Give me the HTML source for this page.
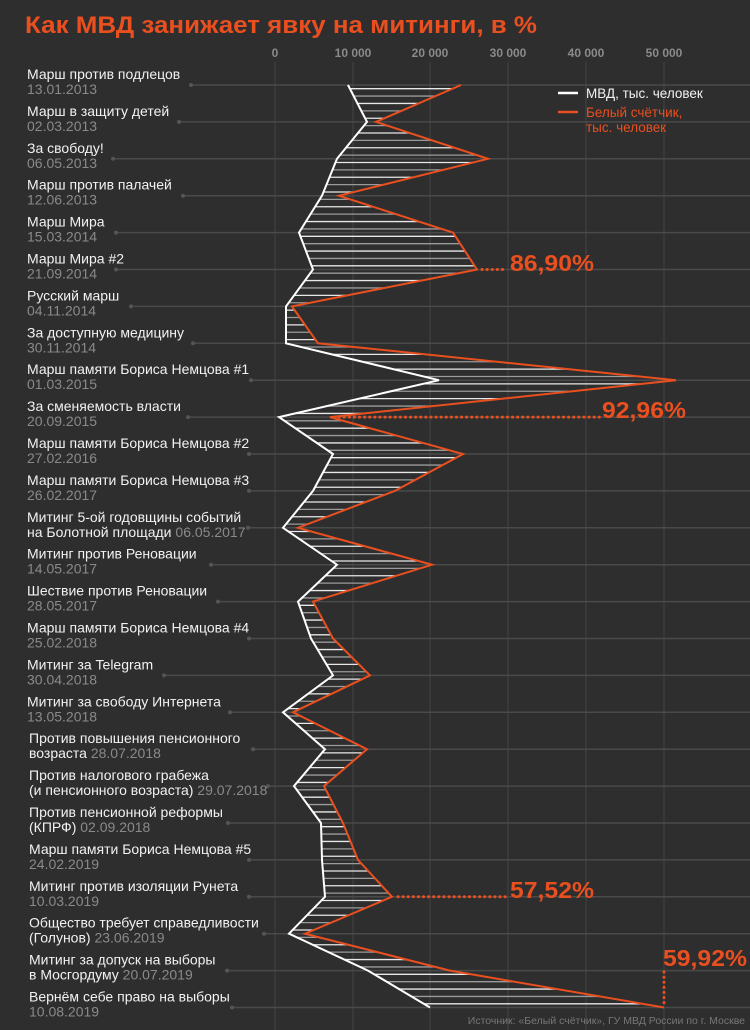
<!DOCTYPE html>
<html><head><meta charset="utf-8"><style>
html,body{margin:0;padding:0;background:#2e2e2e;}
svg{display:block;font-family:"Liberation Sans","DejaVu Sans",sans-serif;}
</style></head><body>
<svg id="s" width="750" height="1030" xmlns="http://www.w3.org/2000/svg">
<rect width="750" height="1030" fill="#2e2e2e"/>
<text x="25" y="33" fill="#ea4f1f" font-size="24" font-weight="bold" textLength="512" lengthAdjust="spacingAndGlyphs">Как МВД занижает явку на митинги, в %</text>
<g id="g"></g>
</svg>
<script>
var NS="http://www.w3.org/2000/svg",g=document.getElementById('g');
function el(t,a,txt){var e=document.createElementNS(NS,t);for(var k in a)e.setAttribute(k,a[k]);if(txt!=null)e.textContent=txt;g.appendChild(e);return e;}
var ax=[275,353,430,508,586,664],al=["0","10 000","20 000","30 000","40 000","50 000"];
for(var i=0;i<6;i++){el('line',{x1:ax[i],x2:ax[i],y1:62,y2:1030,stroke:'#444','stroke-width':1});
el('text',{x:ax[i],y:57,fill:'#8a8a8a','font-size':12,'font-weight':'bold','text-anchor':'middle'},al[i]);}
var rows=[
["Марш против подлецов","13.01.2013",191,348,461],
["Марш в защиту детей","02.03.2013",179,367,376],
["За свободу!","06.05.2013",113,337,488],
["Марш против палачей","12.06.2013",183,322,339],
["Марш Мира","15.03.2014",116,299,453],
["Марш Мира #2","21.09.2014",116,313,477],
["Русский марш","04.11.2014",131,286,292],
["За доступную медицину","30.11.2014",193,286,318],
["Марш памяти Бориса Немцова #1","01.03.2015",251,439,676],
["За сменяемость власти","20.09.2015",188,279,330],
["Марш памяти Бориса Немцова #2","27.02.2016",249,333,463],
["Марш памяти Бориса Немцова #3","26.02.2017",249,313,395],
["Митинг 5-ой годовщины событий","на Болотной площади|06.05.2017",248,283,298],
["Митинг против Реновации","14.05.2017",211,337,432],
["Шествие против Реновации","28.05.2017",218,298,313],
["Марш памяти Бориса Немцова #4","25.02.2018",249,311,333],
["Митинг за Telegram","30.04.2018",164,333,370],
["Митинг за свободу Интернета","13.05.2018",230,283,293],
["Против повышения пенсионного","возраста|28.07.2018",253,325,367],
["Против налогового грабежа","(и пенсионного возраста)|29.07.2018",268,294,324],
["Против пенсионной реформы","(КПРФ)|02.09.2018",228,321,343],
["Марш памяти Бориса Немцова #5","24.02.2019",249,322,358],
["Митинг против изоляции Рунета","10.03.2019",249,325,392],
["Общество требует справедливости","(Голунов)|23.06.2019",264,289,305],
["Митинг за допуск на выборы","в Мосгордуму|20.07.2019",227,368,450],
["Вернём себе право на выборы","10.08.2019",232,430,664]];
function Y(i){return 85+i*36.9;}
var pw=[],po=[];
rows.forEach(function(r,i){var y=Y(i);
 el('line',{x1:r[2],x2:750,y1:y,y2:y,stroke:'#4a4a4a','stroke-width':1.5});
 el('circle',{cx:r[2],cy:y,r:2,fill:'#555'});
 var lx=i>=18?29:27;
 el('text',{x:lx,y:y-6,fill:'#f2f2f2','font-size':14},r[0]);
 var t=el('text',{x:lx,y:y+9,fill:'#f2f2f2','font-size':14});
 var p=r[1].split('|');
 if(p.length==2){var a=document.createElementNS(NS,'tspan');a.textContent=p[0]+' ';t.appendChild(a);
  var b=document.createElementNS(NS,'tspan');b.setAttribute('fill','#8a8a8a');b.textContent=p[1];t.appendChild(b);}
 else{t.setAttribute('fill','#8a8a8a');t.textContent=p[0];}
 pw.push(r[3]+','+y);po.push(r[4]+','+y);
});
var cp=el('clipPath',{id:'cp'});
var poly=document.createElementNS(NS,'polygon');poly.setAttribute('points',pw.concat(po.slice().reverse()).join(' '));cp.appendChild(poly);
var hg=el('g',{'clip-path':'url(#cp)'});
var k=0;for(var y=85+3.7;y<1010;y+=7.38){var l=document.createElementNS(NS,'line');l.setAttribute('x1',270);l.setAttribute('x2',690);l.setAttribute('y1',y);l.setAttribute('y2',y);l.setAttribute('stroke',k%2?'#9a9a9a':'#e8e8e8');l.setAttribute('stroke-width',1.3);hg.appendChild(l);k++;}
el('polyline',{points:po.join(' '),fill:'none',stroke:'#ea4f1f','stroke-width':2});
el('polyline',{points:pw.join(' '),fill:'none',stroke:'#fff','stroke-width':2});
var d={stroke:'#ea4f1f','stroke-width':3,'stroke-dasharray':'0.1 5','stroke-linecap':'round'};
function dl(x1,y1,x2,y2){var a={x1:x1,y1:y1,x2:x2,y2:y2};for(var k in d)a[k]=d[k];el('line',a);}
dl(482,Y(5),507,Y(5));dl(334,Y(9),600,Y(9));dl(398,Y(22),506,Y(22));dl(664,972,664,Y(25)-4);
var at={fill:'#ea4f1f','font-size':23,'font-weight':'bold',textLength:84,lengthAdjust:'spacingAndGlyphs'};
function tx(x,y,s){var a={x:x,y:y};for(var k in at)a[k]=at[k];el('text',a,s);}
tx(510,271,"86,90%");tx(602,418,"92,96%");tx(510,898,"57,52%");tx(663,966,"59,92%");
el('line',{x1:558,x2:578,y1:93,y2:93,stroke:'#fff','stroke-width':2.5});
el('text',{x:586,y:98,fill:'#f2f2f2','font-size':13.5},"МВД, тыс. человек");
el('line',{x1:558,x2:578,y1:112,y2:112,stroke:'#ea4f1f','stroke-width':2.5});
el('text',{x:586,y:117,fill:'#ea4f1f','font-size':13.5},"Белый счётчик,");
el('text',{x:586,y:132,fill:'#ea4f1f','font-size':13.5},"тыс. человек");
el('text',{x:745,y:1024,fill:'#777','font-size':10.5,'text-anchor':'end'},"Источник: «Белый счётчик», ГУ МВД России по г. Москве");
</script>
</body></html>
